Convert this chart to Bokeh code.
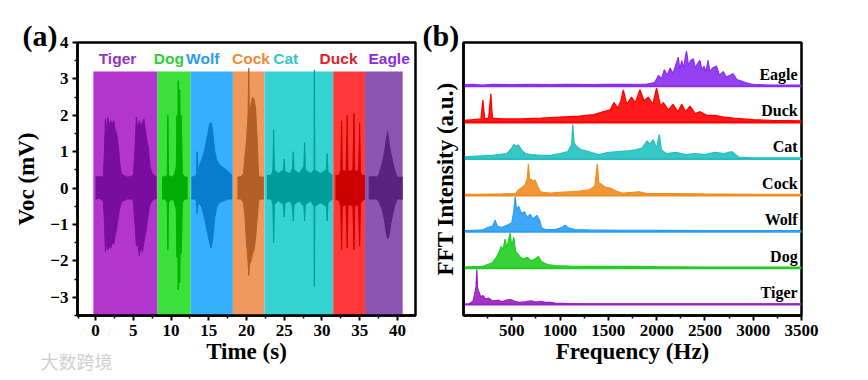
from bokeh.plotting import figure
from bokeh.models import FixedTicker, ColumnDataSource, Title
from bokeh.layouts import row
from bokeh.core.properties import value
from bokeh.embed import file_html
from bokeh.resources import INLINE

# ---------------- data: panel (a) time-domain envelopes ----------------
animals = ["Tiger", "Dog", "Wolf", "Cock", "Cat", "Duck", "Eagle"]
seg_start = [-0.3, 8.2, 12.6, 18.2, 22.4, 31.5, 35.7]
seg_end = [8.2, 12.6, 18.2, 22.4, 31.5, 35.7, 40.7]
seg_top = 3.2
seg_bottom = -3.5
label_x = [2.9, 9.7, 14.2, 20.6, 25.2, 32.2, 38.9]
label_y = 3.57

tiger_t = [0.0, 0.5, 1.0, 1.15, 1.3, 1.45, 1.6, 1.8, 2.0, 2.2, 2.4, 2.6, 2.8, 3.0, 3.2, 3.4, 3.7, 4.2, 4.7, 5.0, 5.2, 5.4, 5.6, 5.8, 6.0, 6.2, 6.4, 6.6, 6.8, 7.0, 7.2, 7.5, 7.8, 8.1]
tiger_up = [0.3, 0.32, 0.3, 0.9, 1.9, 1.5, 1.95, 1.7, 1.85, 1.75, 1.85, 1.6, 1.5, 1.2, 0.7, 0.4, 0.35, 0.3, 0.32, 0.35, 1.0, 1.95, 1.6, 1.85, 1.7, 1.8, 1.9, 1.6, 1.3, 1.1, 0.6, 0.4, 0.35, 0.3]
tiger_lo = [-0.3, -0.28, -0.35, -0.8, -1.75, -1.5, -1.7, -1.6, -1.65, -1.5, -1.55, -1.3, -1.1, -0.8, -0.55, -0.4, -0.35, -0.3, -0.3, -0.35, -0.9, -1.6, -1.5, -1.85, -1.6, -1.75, -1.5, -1.3, -1.0, -0.7, -0.45, -0.35, -0.3, -0.3]

dog_t = [8.8, 9.2, 9.5, 9.58, 9.66, 10.0, 10.4, 10.7, 10.78, 10.86, 10.95, 11.05, 11.15, 11.25, 11.35, 11.5, 11.8, 12.2]
dog_up = [0.3, 0.32, 0.35, 2.0, 0.35, 0.3, 0.35, 0.6, 2.0, 0.8, 2.95, 1.0, 2.7, 1.2, 2.0, 0.4, 0.3, 0.3]
dog_lo = [-0.3, -0.3, -0.4, -1.7, -0.4, -0.3, -0.35, -0.6, -1.9, -0.9, -2.8, -1.2, -2.6, -1.0, -1.8, -0.4, -0.3, -0.3]

wolf_t = [12.7, 13.1, 13.35, 13.45, 13.6, 14.0, 14.4, 14.8, 15.1, 15.3, 15.5, 15.8, 16.1, 16.4, 17.0, 17.6, 18.1]
wolf_up = [0.3, 0.32, 0.35, 1.0, 0.5, 0.75, 1.0, 1.4, 1.75, 1.8, 1.6, 1.0, 0.75, 0.65, 0.55, 0.45, 0.35]
wolf_lo = [-0.3, -0.3, -0.35, -0.7, -0.4, -0.5, -0.8, -1.2, -1.5, -1.65, -1.45, -0.8, -0.5, -0.4, -0.35, -0.3, -0.3]

cock_t = [18.8, 19.3, 19.6, 19.8, 20.0, 20.2, 20.3, 20.4, 20.6, 20.8, 21.0, 21.2, 21.4, 21.6, 21.9, 22.3]
cock_up = [0.3, 0.32, 0.4, 0.9, 1.3, 2.0, 3.3, 1.8, 2.3, 2.5, 2.45, 2.2, 1.4, 0.35, 0.3, 0.3]
cock_lo = [-0.3, -0.3, -0.4, -0.8, -1.5, -2.0, -2.4, -2.1, -2.0, -1.8, -1.7, -1.4, -0.9, -0.35, -0.3, -0.3]

cat_t = [22.7, 23.3, 23.5, 23.6, 23.7, 24.2, 24.9, 25.0, 25.1, 25.8, 26.1, 26.2, 26.3, 27.0, 27.6, 27.7, 27.8, 28.5, 28.95, 29.0, 29.05, 29.8, 30.6, 30.7, 30.8, 31.4]
cat_up = [0.35, 0.35, 0.5, 1.6, 0.5, 0.4, 0.5, 0.8, 0.45, 0.4, 0.55, 1.0, 0.5, 0.4, 0.6, 1.25, 0.5, 0.4, 0.5, 3.25, 0.5, 0.4, 0.5, 0.95, 0.45, 0.35]
cat_lo = [-0.3, -0.3, -0.45, -1.5, -0.45, -0.35, -0.45, -0.8, -0.4, -0.35, -0.5, -0.9, -0.45, -0.35, -0.5, -0.9, -0.45, -0.35, -0.5, -2.7, -0.5, -0.4, -0.5, -0.9, -0.4, -0.3]

duck_t = [31.8, 32.3, 32.5, 32.6, 32.7, 33.2, 33.35, 33.45, 33.6, 34.1, 34.25, 34.35, 34.5, 34.85, 35.0, 35.1, 35.3, 35.7]
duck_up = [0.35, 0.35, 0.5, 1.85, 0.5, 0.45, 2.0, 0.5, 0.45, 0.5, 2.05, 0.5, 0.45, 0.5, 1.8, 0.45, 0.35, 0.35]
duck_lo = [-0.3, -0.35, -0.5, -1.7, -0.5, -0.45, -1.65, -0.5, -0.45, -0.5, -1.7, -0.5, -0.45, -0.5, -1.6, -0.45, -0.35, -0.3]

eagle_t = [36.2, 36.8, 37.3, 37.6, 38.0, 38.3, 38.5, 38.7, 38.9, 39.1, 39.4, 39.7, 40.0, 40.7]
eagle_up = [0.3, 0.32, 0.3, 0.4, 0.7, 1.0, 1.3, 1.55, 1.25, 1.0, 0.7, 0.45, 0.3, 0.3]
eagle_lo = [-0.3, -0.3, -0.3, -0.4, -0.6, -0.9, -1.2, -1.4, -1.3, -1.0, -0.7, -0.45, -0.3, -0.3]

# ---------------- data: panel (b) FFT spectra ----------------
tiger_f = [0, 60, 100, 120, 130, 138, 146, 160, 180, 200, 230, 260, 290, 320, 360, 400, 440, 480, 510, 540, 580, 650, 700, 750, 800, 850, 900, 950, 1100, 1400, 2000, 2500, 3000, 3500]
tiger_a = [0.0, 0.02, 0.1, 0.35, 0.5, 0.96, 0.45, 0.35, 0.2, 0.25, 0.15, 0.18, 0.12, 0.1, 0.12, 0.08, 0.12, 0.14, 0.12, 0.08, 0.06, 0.08, 0.1, 0.07, 0.09, 0.06, 0.06, 0.04, 0.03, 0.02, 0.02, 0.02, 0.02, 0.02]

dog_f = [0, 100, 200, 250, 300, 340, 370, 390, 410, 430, 450, 465, 483, 500, 520, 540, 560, 590, 620, 660, 700, 740, 776, 800, 830, 870, 950, 1100, 1300, 1600, 2000, 2500, 3000, 3500]
dog_a = [0.03, 0.04, 0.05, 0.1, 0.15, 0.3, 0.45, 0.6, 0.5, 0.8, 0.55, 0.75, 0.96, 0.6, 0.85, 0.45, 0.4, 0.3, 0.25, 0.3, 0.2, 0.25, 0.32, 0.2, 0.15, 0.1, 0.07, 0.06, 0.05, 0.05, 0.04, 0.03, 0.03, 0.03]

wolf_f = [0, 100, 200, 250, 300, 328, 350, 400, 450, 500, 520, 535, 550, 570, 600, 630, 660, 690, 720, 759, 790, 810, 850, 950, 1020, 1052, 1090, 1150, 1300, 1600, 2000, 2500, 3000, 3500]
wolf_a = [0.03, 0.04, 0.05, 0.12, 0.15, 0.32, 0.15, 0.12, 0.18, 0.25, 0.55, 0.96, 0.6, 0.7, 0.5, 0.55, 0.4, 0.48, 0.35, 0.45, 0.3, 0.1, 0.06, 0.06, 0.12, 0.18, 0.1, 0.06, 0.05, 0.04, 0.04, 0.03, 0.03, 0.03]

cock_f = [0, 200, 400, 540, 569, 600, 640, 660, 672, 685, 700, 720, 740, 760, 790, 820, 900, 1000, 1100, 1200, 1300, 1360, 1386, 1400, 1430, 1470, 1520, 1580, 1650, 1750, 1820, 1900, 2100, 2500, 3000, 3500]
cock_a = [0.03, 0.03, 0.04, 0.05, 0.15, 0.2, 0.3, 0.45, 0.87, 0.4, 0.45, 0.38, 0.42, 0.3, 0.12, 0.08, 0.06, 0.08, 0.1, 0.12, 0.15, 0.25, 0.87, 0.35, 0.3, 0.22, 0.2, 0.12, 0.06, 0.08, 0.1, 0.05, 0.05, 0.04, 0.03, 0.03]

cat_f = [0, 150, 300, 450, 500, 520, 540, 570, 600, 640, 700, 800, 900, 1000, 1080, 1120, 1131, 1145, 1170, 1220, 1300, 1400, 1500, 1600, 1700, 1780, 1850, 1900, 1930, 1965, 2000, 2027, 2050, 2100, 2200, 2300, 2400, 2500, 2600, 2700, 2780, 2850, 3000, 3500]
cat_a = [0.06, 0.08, 0.1, 0.15, 0.3, 0.4, 0.35, 0.38, 0.25, 0.15, 0.12, 0.1, 0.1, 0.15, 0.2, 0.4, 0.95, 0.45, 0.35, 0.25, 0.2, 0.12, 0.18, 0.2, 0.22, 0.25, 0.3, 0.5, 0.4, 0.53, 0.3, 0.67, 0.25, 0.15, 0.18, 0.12, 0.15, 0.12, 0.18, 0.15, 0.2, 0.05, 0.03, 0.03]

duck_f = [0, 100, 180, 200, 220, 260, 283, 300, 400, 600, 800, 1000, 1200, 1350, 1450, 1520, 1558, 1600, 1630, 1655, 1690, 1740, 1780, 1827, 1870, 1913, 1960, 2000, 2040, 2070, 2120, 2170, 2220, 2260, 2300, 2345, 2400, 2450, 2520, 2600, 2700, 2800, 3000, 3200, 3500]
duck_a = [0.06, 0.08, 0.1, 0.62, 0.1, 0.12, 0.8, 0.12, 0.1, 0.1, 0.12, 0.15, 0.18, 0.22, 0.3, 0.35, 0.55, 0.4, 0.6, 0.9, 0.5, 0.7, 0.55, 0.9, 0.6, 0.7, 0.5, 0.95, 0.45, 0.55, 0.35, 0.5, 0.3, 0.5, 0.3, 0.45, 0.25, 0.3, 0.2, 0.2, 0.15, 0.12, 0.08, 0.06, 0.05]

eagle_f = [0, 100, 200, 300, 500, 700, 900, 1100, 1300, 1500, 1700, 1900, 1980, 2020, 2050, 2080, 2110, 2140, 2170, 2200, 2224, 2240, 2260, 2280, 2300, 2310, 2330, 2350, 2380, 2400, 2420, 2448, 2470, 2490, 2510, 2533, 2550, 2580, 2620, 2650, 2690, 2720, 2760, 2792, 2830, 2870, 2920, 2980, 3050, 3200, 3500]
eagle_a = [0.04, 0.05, 0.03, 0.05, 0.04, 0.05, 0.04, 0.05, 0.04, 0.05, 0.05, 0.06, 0.1, 0.3, 0.2, 0.45, 0.3, 0.5, 0.35, 0.6, 0.8, 0.45, 0.7, 0.5, 0.85, 0.96, 0.55, 0.7, 0.75, 0.5, 0.6, 0.71, 0.45, 0.55, 0.4, 0.71, 0.4, 0.5, 0.55, 0.3, 0.4, 0.25, 0.3, 0.34, 0.18, 0.15, 0.1, 0.06, 0.04, 0.03, 0.03]

fft_offsets = [0, 1, 2, 3, 4, 5, 6]  # Tiger (bottom) ... Eagle (top)

x_ticks_a = [0, 5, 10, 15, 20, 25, 30, 35, 40]
y_ticks_a = [-3, -2, -1, 0, 1, 2, 3, 4]
x_ticks_b = [500, 1000, 1500, 2000, 2500, 3000, 3500]

# ---------------- styles ----------------
bg_colors = ["#b236cc", "#3be03b", "#35b0ff", "#f0985e", "#37d3d3", "#ff3838", "#8c56b0"]
sig_colors = ["#7a0e9c", "#02ad02", "#0a7ccc", "#b45e28", "#009b9b", "#cf0000", "#57237f"]
txt_colors = ["#9433c8", "#33cc33", "#2b9cf2", "#f08a38", "#33c8c8", "#e0202a", "#8a2be2"]
fft_colors = ["#9a1fc0", "#22cc22", "#2a9df4", "#f08c20", "#22c0c0", "#ff0000", "#8b2cf0"]

SERIF = "Liberation Serif"


def style_axes(p):
    p.outline_line_color = "black"
    p.outline_line_width = 2.5
    p.outline_line_alpha = 1
    p.grid.visible = False
    p.background_fill_color = "white"
    p.border_fill_color = "white"
    for ax in p.axis:
        ax.axis_line_width = 2.5
        ax.major_tick_line_width = 2
        ax.minor_tick_line_width = 1.5
        ax.major_tick_in = 0
        ax.major_tick_out = 5
        ax.minor_tick_in = 0
        ax.minor_tick_out = 3
        ax.major_label_text_font = SERIF
        ax.major_label_text_font_style = "bold"
        ax.major_label_text_font_size = "17px"
        ax.major_label_text_color = "black"
        ax.axis_label_text_font = SERIF
        ax.axis_label_text_font_style = "bold"
        ax.axis_label_text_font_size = "23px"
        ax.axis_label_text_color = "black"


# ---------------- panel (a) ----------------
pa = figure(frame_width=338, frame_height=273, x_range=(-2.4, 42.4), y_range=(-3.5, 4.0),
            output_backend="svg", toolbar_location=None,
            min_border_left=77, min_border_right=6, min_border_top=42, min_border_bottom=64)
style_axes(pa)
pa.xaxis.ticker = FixedTicker(ticks=x_ticks_a, minor_ticks=[v + 2.5 for v in x_ticks_a[:-1]] + [-2.3])
pa.yaxis.ticker = FixedTicker(ticks=y_ticks_a, minor_ticks=[v + 0.5 for v in y_ticks_a[:-1]] + [-3.5])
pa.xaxis.axis_label = "Time (s)"
pa.yaxis.axis_label = "Voc (mV)"
pa.xaxis.axis_label_standoff = 0
pa.xaxis.major_label_standoff = 4
pa.yaxis.axis_label_standoff = 8
pa.yaxis.major_label_standoff = 4

pa.quad(left=seg_start, right=seg_end, bottom=seg_bottom, top=seg_top,
        fill_color=bg_colors, line_color=None)

sig_t = [tiger_t, dog_t, wolf_t, cock_t, cat_t, duck_t, eagle_t]
sig_up = [tiger_up, dog_up, wolf_up, cock_up, cat_up, duck_up, eagle_up]
sig_lo = [tiger_lo, dog_lo, wolf_lo, cock_lo, cat_lo, duck_lo, eagle_lo]
for t, up, lo, c in zip(sig_t, sig_up, sig_lo, sig_colors):
    pa.varea(x=t, y1=lo, y2=up, fill_color=c)
    pa.line(x=t, y=up, line_color=c, line_width=1)
    pa.line(x=t, y=lo, line_color=c, line_width=1)

lab_src = ColumnDataSource(dict(x=label_x, y=[label_y] * len(animals), text=animals, color=txt_colors))
pa.text(x="x", y="y", text="text", source=lab_src, text_color="color",
        text_font=value("Liberation Sans"), text_font_style="bold", text_font_size="15.5px",
        text_align="center", text_baseline="middle")

pa.add_layout(Title(text="(a)", align="left", offset=-55, standoff=-18, text_font=SERIF,
                    text_font_style="bold", text_font_size="30px", text_color="black"), "above")
pa.add_layout(Title(text="大数跨境", align="left", offset=-37, standoff=-38, vertical_align="top",
                    text_font="Noto Sans CJK SC", text_font_style="normal", text_font_size="18px",
                    text_color="#d0d0d0"), "below")

# ---------------- panel (b) ----------------
pb = figure(frame_width=338, frame_height=273, x_range=(0, 3500), y_range=(-0.3, 7.2),
            output_backend="svg", toolbar_location=None,
            min_border_left=42, min_border_right=48, min_border_top=42, min_border_bottom=64)
style_axes(pb)
pb.xaxis.ticker = FixedTicker(ticks=x_ticks_b, minor_ticks=[v - 250 for v in x_ticks_b])
pb.yaxis.ticker = FixedTicker(ticks=[], minor_ticks=[])
pb.yaxis.major_label_text_font_size = "0px"
pb.xaxis.axis_label = "Frequency (Hz)"
pb.yaxis.axis_label = "FFT Intensity (a.u.)"
pb.xaxis.axis_label_standoff = 0
pb.xaxis.major_label_standoff = 4
pb.yaxis.axis_label_standoff = 6

fft_f = [tiger_f, dog_f, wolf_f, cock_f, cat_f, duck_f, eagle_f]
fft_a = [tiger_a, dog_a, wolf_a, cock_a, cat_a, duck_a, eagle_a]
for f, a, off, c in zip(fft_f, fft_a, fft_offsets, fft_colors):
    y2 = [off + v for v in a]
    pb.varea(x=f, y1=[off] * len(f), y2=y2, fill_color=c, fill_alpha=0.9)
    pb.line(x=f, y=y2, line_color=c, line_width=1.2)
    pb.line(x=[f[0], f[-1]], y=[off, off], line_color=c, line_width=2)

name_src = ColumnDataSource(dict(x=[3460] * len(animals), y=[o + 0.33 for o in fft_offsets], text=animals))
pb.text(x="x", y="y", text="text", source=name_src, text_color="black",
        text_font=value(SERIF), text_font_style="bold", text_font_size="16px",
        text_align="right", text_baseline="middle")

pb.add_layout(Title(text="(b)", align="left", offset=-41, standoff=-18, text_font=SERIF,
                    text_font_style="bold", text_font_size="30px", text_color="black"), "above")

layout = row(pa, pb)
open("out.html", "w").write(file_html(layout, INLINE))
